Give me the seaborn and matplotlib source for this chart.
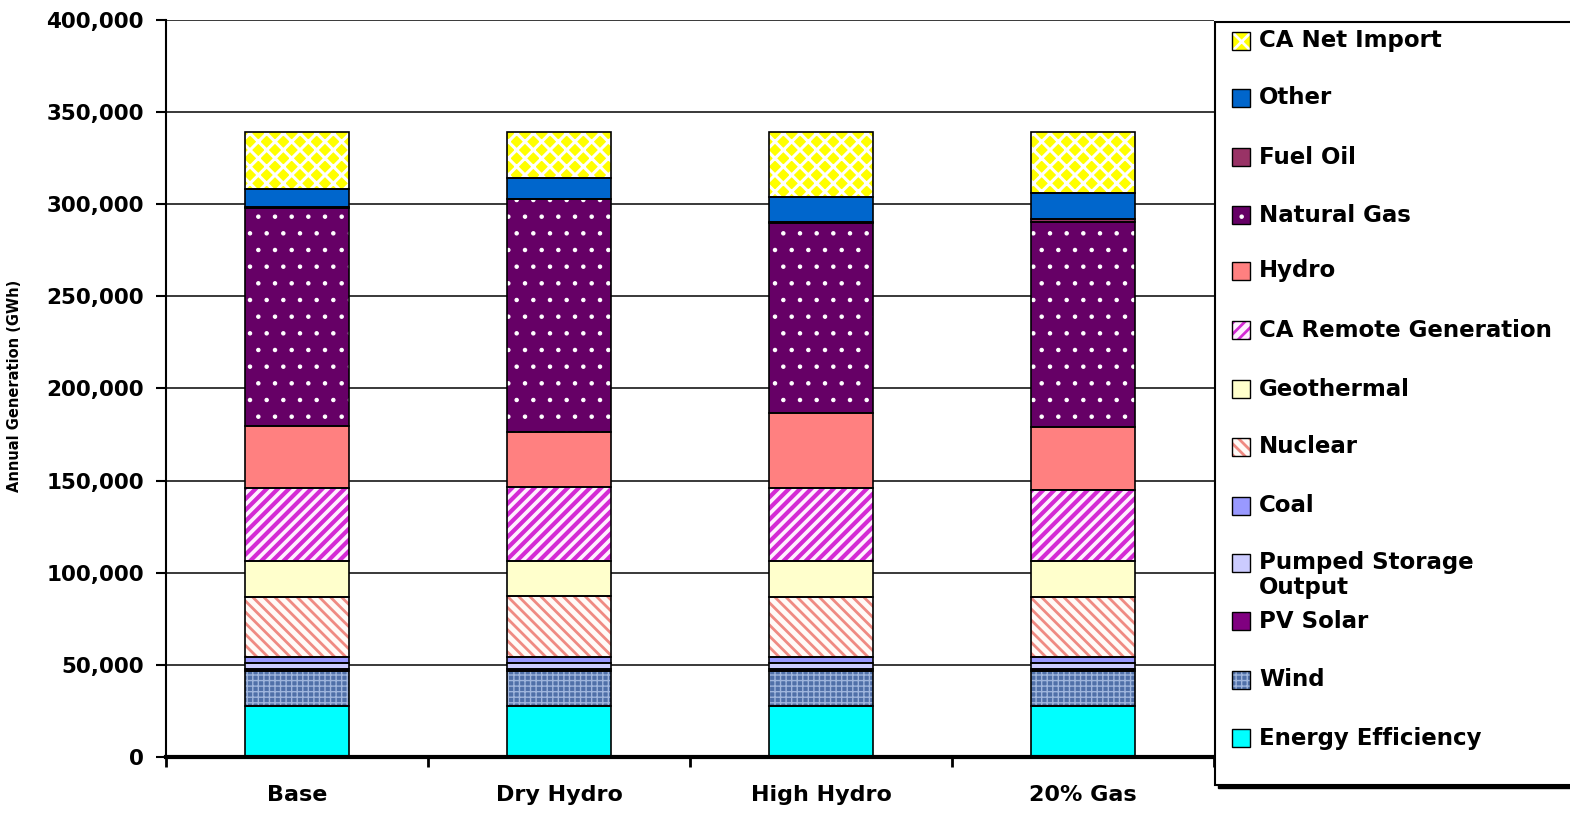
import matplotlib
matplotlib.use("Agg")
import matplotlib.pyplot as plt
from matplotlib.patches import Rectangle
from matplotlib.ticker import FuncFormatter, MultipleLocator, FixedLocator
import seaborn as sns

# ---- data (GWh per scenario, stacked bottom to top) ----
scenarios = ["Base", "Dry Hydro", "High Hydro", "20% Gas"]

energy_efficiency = [27700, 27700, 27700, 27700]
wind = [18900, 18900, 18900, 18900]
pv_solar = [1000, 1000, 1000, 1000]
pumped_storage = [3300, 3300, 3300, 3300]
coal = [3300, 3300, 3300, 3300]
nuclear = [32500, 33300, 32500, 32500]
geothermal = [19600, 18800, 19600, 19600]
remote_generation = [39900, 40500, 39900, 38700]
hydro = [33600, 29600, 40700, 34100]
natural_gas = [118000, 126200, 103000, 111400]
fuel_oil = [500, 500, 500, 1500]
other = [9900, 11100, 13400, 14000]
net_import = [31200, 25200, 35600, 33400]

layer_names = ["Energy Efficiency", "Wind", "PV Solar", "Pumped Storage\nOutput",
               "Coal", "Nuclear", "Geothermal", "CA Remote Generation", "Hydro",
               "Natural Gas", "Fuel Oil", "Other", "CA Net Import"]
layer_values = [energy_efficiency, wind, pv_solar, pumped_storage, coal, nuclear,
                geothermal, remote_generation, hydro, natural_gas, fuel_oil, other,
                net_import]

# fill colour, hatch pattern, hatch colour, hatch line width
styles = {
    "Energy Efficiency": dict(face="#00FFFF"),
    "Wind": dict(face="#5070A8", hatch="+++", hc="#9FB5DC", hlw=1.0),
    "PV Solar": dict(face="#800080"),
    "Pumped Storage\nOutput": dict(face="#CCCCFF"),
    "Coal": dict(face="#9999FF"),
    "Nuclear": dict(face="#FFFAF7", hatch="\\\\\\", hc="#EF8A82", hlw=2.0),
    "Geothermal": dict(face="#FFFFCC"),
    "CA Remote Generation": dict(face="#FFF0FF", hatch="///", hc="#D42AD4", hlw=3.0),
    "Hydro": dict(face="#FF8080"),
    "Natural Gas": dict(face="#660066", hatch=".", hc="#FFFFFF", hlw=0.8),
    "Fuel Oil": dict(face="#993366"),
    "Other": dict(face="#0066CC"),
    "CA Net Import": dict(face="#FFFF00", hatch="xx", hc="#FFFFFF", hlw=2.2),
}

W, H = 1570, 814
sns.set_theme(style="white")
plt.rcParams["font.family"] = ["DejaVu Sans"]
plt.rcParams["hatch.linewidth"] = 1.0

fig = plt.figure(figsize=(W / 100, H / 100), dpi=100)
ax = fig.add_axes([166 / W, 1 - 757 / H, (1214 - 166) / W, (757 - 20) / H])


def set_hatch_lw(patches, lw):
    for p in patches:
        if hasattr(p, "set_hatch_linewidth"):
            p.set_hatch_linewidth(lw)
        else:
            p._hatch_linewidth = lw


bottoms = [0.0] * len(scenarios)
for name, vals in zip(layer_names, layer_values):
    st = styles[name]
    n0 = len(ax.patches)
    sns.barplot(x=scenarios, y=vals, bottom=bottoms, width=0.4, saturation=1,
                color=st["face"], edgecolor=st.get("hc", st["face"]), linewidth=0,
                hatch=st.get("hatch"), errorbar=None, ax=ax, zorder=2)
    if "hlw" in st:
        set_hatch_lw(ax.patches[n0:], st["hlw"])
    sns.barplot(x=scenarios, y=vals, bottom=bottoms, width=0.4, fill=False,
                color="black", saturation=1, edgecolor="black", linewidth=1.2,
                errorbar=None, ax=ax, zorder=3)
    bottoms = [b + v for b, v in zip(bottoms, vals)]

# ---- axes styling ----
ax.set_xlim(-0.5, 3.5)
ax.set_ylim(0, 400000)
ax.yaxis.set_major_locator(MultipleLocator(50000))
ax.yaxis.set_major_formatter(FuncFormatter(lambda v, p: f"{int(v):,}"))
ax.set_axisbelow(True)
ax.yaxis.grid(True, color="#2a2a2a", linewidth=1.3)
ax.xaxis.grid(False)
ax.set_xlabel("")
ax.set_ylabel("")

for side in ("top", "right"):
    ax.spines[side].set_visible(False)
ax.spines["left"].set_color("black")
ax.spines["left"].set_linewidth(1.5)
ax.spines["bottom"].set_color("black")
ax.spines["bottom"].set_linewidth(3)

ax.tick_params(axis="y", which="major", direction="out", length=7, width=1.5,
               color="black", pad=9, labelsize=15.5, left=True)
ax.tick_params(axis="x", which="major", length=0, pad=20, labelsize=16)
ax.xaxis.set_minor_locator(FixedLocator([-0.5, 0.5, 1.5, 2.5, 3.5]))
ax.tick_params(axis="x", which="minor", direction="out", length=7, width=2,
               color="black", bottom=True)
for lab in ax.get_yticklabels() + ax.get_xticklabels():
    lab.set_fontweight("bold")
    lab.set_color("black")

fig.text(15 / W, 1 - 386 / H, "Annual Generation (GWh)", rotation=90,
         ha="center", va="center", fontsize=10.5, fontweight="bold", color="black")


# ---- legend panel (figure pixel coordinates) ----
def fx(x):
    return x / W


def fy(y):
    return 1 - y / H


box_l, box_t, box_r, box_b = 1215, 22, 1575, 785
fig.add_artist(Rectangle((fx(box_l + 3), fy(box_b + 3)), fx(box_r - box_l),
                         (box_b - box_t) / H, transform=fig.transFigure,
                         facecolor="black", edgecolor="black", zorder=5))
fig.add_artist(Rectangle((fx(box_l), fy(box_b)), fx(box_r - box_l),
                         (box_b - box_t) / H, transform=fig.transFigure,
                         facecolor="white", edgecolor="black", linewidth=1.5,
                         zorder=6))

row_y = [41, 98, 157, 215, 271, 330, 389, 447, 506, 563, 621, 680, 738]
for name, yc in zip(layer_names[::-1], row_y):
    st = styles[name]
    hp = Rectangle((fx(1232), fy(yc + 9)), 18 / W, 18 / H, transform=fig.transFigure,
                   facecolor=st["face"], edgecolor=st.get("hc", st["face"]),
                   linewidth=0, hatch=st.get("hatch"), zorder=7)
    if "hlw" in st:
        set_hatch_lw([hp], min(st["hlw"], 2.0))
    fig.add_artist(hp)
    fig.add_artist(Rectangle((fx(1232), fy(yc + 9)), 18 / W, 18 / H,
                             transform=fig.transFigure, fill=False,
                             edgecolor="black", linewidth=1.0, zorder=8))
    if "\n" in name:
        fig.text(fx(1259), fy(yc - 12), name, ha="left", va="top", fontsize=16.5,
                 fontweight="bold", color="black", linespacing=1.1, zorder=9)
    else:
        fig.text(fx(1259), fy(yc), name, ha="left", va="center", fontsize=16.5,
                 fontweight="bold", color="black", zorder=9)

fig.savefig("out.png", dpi=100, facecolor="white")
